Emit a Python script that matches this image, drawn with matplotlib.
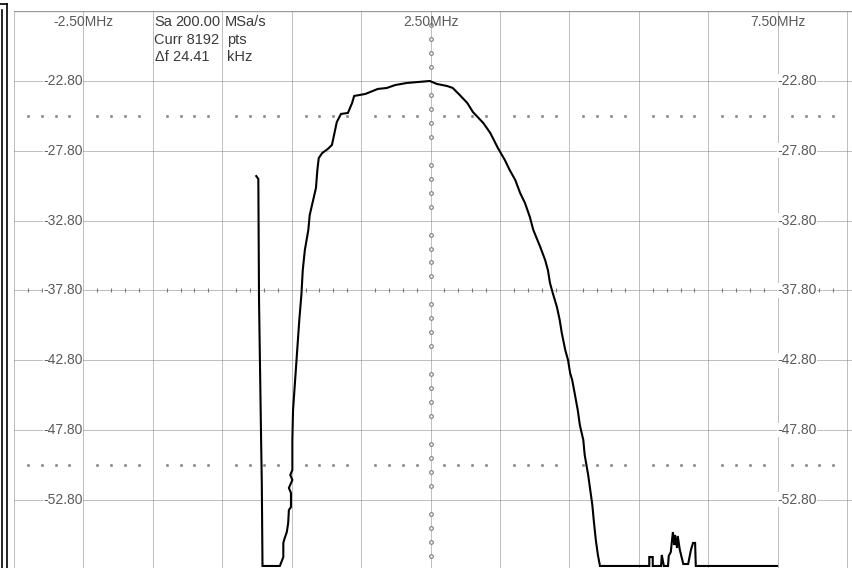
import numpy as np
import matplotlib
matplotlib.use('Agg')
import matplotlib.pyplot as plt
from matplotlib.lines import Line2D

plt.rcParams['font.family'] = ['Liberation Sans', 'DejaVu Sans']

# FFT trace: frequency (MHz) / level (dB)
freq = [-0.01, 0.02, 0.03, 0.06, 0.07, 0.08, 0.33, 0.38, 0.38, 0.40, 0.43, 0.45,
        0.46, 0.49, 0.49, 0.46, 0.51, 0.48, 0.51, 0.51, 0.52, 0.55, 0.58, 0.61,
        0.64, 0.66, 0.69, 0.74, 0.76, 0.81, 0.85, 0.87, 0.89, 0.94, 1.02, 1.08,
        1.12, 1.15, 1.21, 1.31, 1.37, 1.40, 1.48, 1.56, 1.63, 1.74, 1.87, 1.99,
        2.16, 2.49, 2.59, 2.74, 2.82, 2.92, 3.03, 3.11, 3.26, 3.36, 3.47, 3.57,
        3.64, 3.72, 3.79, 3.86, 3.93, 3.98, 4.08, 4.15, 4.19, 4.22, 4.26, 4.32,
        4.36, 4.39, 4.44, 4.48, 4.51, 4.54, 4.58, 4.62, 4.65, 4.70, 4.72, 4.77,
        4.80, 4.83, 4.85, 4.88, 4.91, 4.94,
        5.65, 5.65, 5.70, 5.70, 5.82, 5.83, 5.86, 5.92, 5.93, 5.96, 5.99, 6.01,
        6.02, 6.05, 6.06, 6.09, 6.14, 6.21, 6.25, 6.28, 6.31, 6.32, 7.49]
level = [-29.61, -29.82, -38.49, -48.52, -51.60, -57.54, -57.54, -56.90, -55.89, -55.54, -55.11, -54.46,
         -53.53, -53.32, -52.31, -51.95, -51.38, -51.02, -50.67, -48.52, -46.37, -44.22, -42.07, -39.92,
         -38.13, -36.34, -34.91, -33.47, -32.40, -31.32, -30.46, -29.18, -28.32, -27.96, -27.67, -27.38,
         -26.45, -25.74, -25.16, -25.09, -24.38, -23.87, -23.80, -23.73, -23.59, -23.37, -23.30, -23.09,
         -22.94, -22.80, -23.01, -23.16, -23.30, -23.80, -24.38, -25.02, -25.81, -26.52, -27.60, -28.46,
         -29.18, -29.89, -30.82, -31.54, -32.54, -33.47, -34.69, -35.62, -36.34, -37.27, -37.99, -38.99,
         -39.92, -40.85, -42.07, -42.79, -43.72, -44.22, -45.29, -46.37, -47.44, -48.52, -49.59, -51.02,
         -52.10, -53.17, -54.25, -55.68, -56.75, -57.54,
         -57.54, -56.90, -56.90, -57.54, -57.54, -56.75, -57.54, -57.54, -56.82, -56.54, -55.11, -56.04,
         -55.32, -56.25, -55.39, -56.39, -57.40, -57.40, -56.39, -55.89, -55.89, -57.54, -57.54]

x_label_pos = [-2.5, 2.5, 7.5]
x_labels = ['-2.50MHz', '2.50MHz', '7.50MHz']
y_label_pos = [-22.8, -27.8, -32.8, -37.8, -42.8, -47.8, -52.8]
y_labels = ['-22.80', '-27.80', '-32.80', '-37.80', '-42.80', '-47.80', '-52.80']
info_words = [['Sa', '200.00', 'MSa/s'], ['Curr 8192', 'pts'], ['\u0394f 24.41', 'kHz']]

W, H = 852, 568
fig = plt.figure(figsize=(W / 100, H / 100), dpi=100)
fig.patch.set_facecolor('white')
left, top, bottom = 13.9, 11.2, 569.6
ax = fig.add_axes([left / W, 1 - bottom / H, (W - left) / W, (bottom - top) / H])
ax.set_xlim(-3.5, -3.5 + (W - left) / 69.44)
ax.set_ylim(-57.8, -17.8)
ax.axis('off')

gc = '#808080'
dot = (0, (1, 1))
for v in np.arange(-3.5, 8.6, 1.0):
    ax.axvline(v, color=gc, lw=0.72, ls=dot, zorder=1)
for h in np.arange(-57.8, -22.7, 5.0):
    ax.axhline(h, color=gc, lw=0.72, ls=dot, zorder=1)
ax.axhline(-17.8, color='#9a9a9a', lw=1.0, zorder=1)

# centre cross with minor marks
fine_x = [v for v in np.arange(-3.3, 8.6, 0.2) if abs((v + 3.5) % 1.0) > 0.05 and abs((v + 3.5) % 1.0) < 0.95]
fine_y = [v for v in np.arange(-56.8, -17.9, 1.0) if abs((v + 57.8) % 5.0) > 0.1 and abs((v + 57.8) % 5.0) < 4.9]
ax.plot(fine_x, [-37.8] * len(fine_x), ls='none', marker='|', ms=3.5, mew=0.8, color='#7a7a7a', zorder=2)
ax.plot([2.5] * len(fine_y), fine_y, ls='none', marker='o', ms=2.6, mfc='white', mec='#7a7a7a', mew=0.8, zorder=2)
for r in (-25.3, -50.3):
    ax.plot(fine_x, [r] * len(fine_x), ls='none', marker='s', ms=1.0, color='#8a8a8a', zorder=2)

# trace
ax.plot(freq, level, color='black', lw=1.5, zorder=5, solid_joinstyle='miter')

tc = '#5a5a5a'
for x, s in zip(x_label_pos, x_labels):
    ax.text(x, -18.57, s, ha='center', va='center', fontsize=10, color=tc, zorder=4)
for y, s in zip(y_label_pos, y_labels):
    ax.text(-2.51, y, s, ha='right', va='center', fontsize=10, color=tc, zorder=4,
            bbox=dict(facecolor='white', edgecolor='none', pad=0.3))
    ax.text(7.49, y, s, ha='left', va='center', fontsize=10, color=tc, zorder=4,
            bbox=dict(facecolor='white', edgecolor='none', pad=0.3))

# acquisition info, placed in pieces like the scope's fixed layout
word_x = [[-1.48, -1.18, -0.47], [-1.48, -0.43], [-1.47, -0.43]]
info_y = [-18.57, -19.86, -21.08]
for y, words, xs in zip(info_y, info_words, word_x):
    for x, w in zip(xs, words):
        ax.text(x, y, w, ha='left', va='center', fontsize=10.5, color='#3a3a3a', zorder=4)

# window frame on the left
fig.add_artist(Line2D([2 / W, 2 / W], [0, 1 - 10 / H], color='black', lw=1.2))
fig.add_artist(Line2D([7 / W, 7 / W], [0, 1 - 4 / H], color='black', lw=1.2))
fig.add_artist(Line2D([0, 7 / W], [1 - 4 / H, 1 - 4 / H], color='black', lw=1.2))

fig.savefig('out.png', dpi=100, facecolor='white')
